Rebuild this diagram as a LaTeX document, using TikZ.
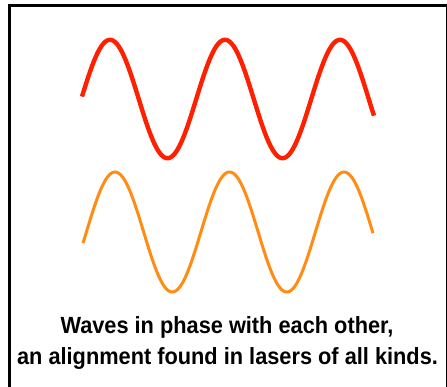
\documentclass[tikz,border=0pt]{standalone}
\usepackage{fontspec}
\setmainfont{Liberation Sans}
\newfontfamily\capfont[FakeStretch=0.93]{Liberation Sans}
\definecolor{wavered}{RGB}{255,32,0}
\definecolor{waveorange}{RGB}{255,140,20}
\begin{document}
\begin{tikzpicture}[x=1pt,y=-1pt,
  frame/.style={draw=black,line width=2.6pt},
  redwave/.style={draw=wavered,line width=4.4pt,line join=round},
  orangewave/.style={draw=waveorange,line width=3pt,line join=round},
  caption/.style={anchor=base,inner sep=0pt,font=\capfont\fontsize{23.4}{30}\selectfont\bfseries}]
\useasboundingbox (0,0) rectangle (447,387);
\clip (0,0) rectangle (447,387);
\fill[white] (0,0) rectangle (447,387);
\draw[frame] (9.7,5.5) rectangle (447.3,400);
\draw[redwave] plot[domain=82:374,samples=300,smooth] (\x,{99-59.2*sin(3.13043*(\x-81.25))});
\draw[orangewave] plot[domain=83:373,samples=300,smooth] (\x,{232-60*sin(3.14410*(\x-86.4))});
\node[caption] (line1) at (227,334) {Waves in phase with each other,};
\node[caption] (line2) at (227.5,364) {an alignment found in lasers of all kinds.};
\end{tikzpicture}
\end{document}
